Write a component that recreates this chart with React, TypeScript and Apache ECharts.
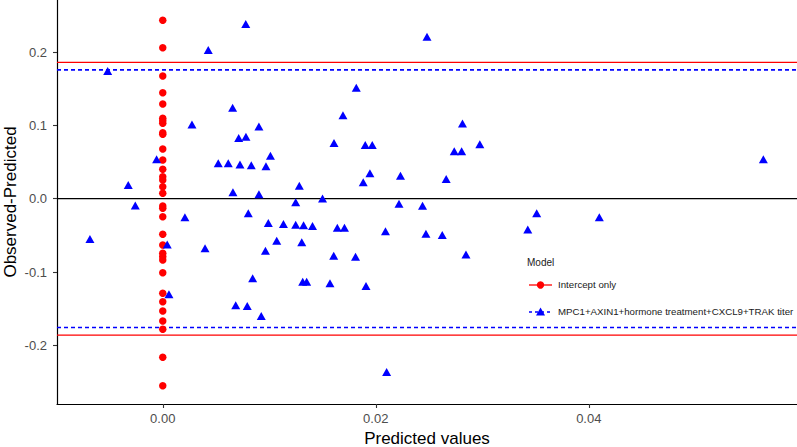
import React, { useEffect, useRef } from "react";
import * as echarts from "echarts";

// Intercept-only model: predicted value is 0 for every observation
const interceptPredicted = [
  0, 0, 0, 0, 0, 0, 0, 0, 0, 0, 0, 0, 0, 0, 0, 0, 0,
  0, 0, 0, 0, 0, 0, 0, 0, 0, 0, 0, 0, 0, 0, 0, 0,
];
const interceptResidual = [
  0.2434, 0.2059, 0.1673, 0.1446, 0.1292, 0.1096, 0.1064, 0.1028, 0.09, 0.0878,
  0.0678, 0.0528, 0.0401, 0.03, 0.0255, 0.0164, 0.0074, -0.01, -0.0131, -0.0245,
  -0.0485, -0.0631, -0.0745, -0.0791, -0.0836, -0.1009, -0.129, -0.1405, -0.1531,
  -0.1668, -0.1781, -0.2163, -0.255,
];

// MPC1+AXIN1+hormone treatment+CXCL9+TRAK titer model
const modelPredicted = [
  -0.00684, -0.00517, -0.00324, -0.00258, -0.00058, 0.00042, 0.00058, 0.00208,
  0.00274, 0.00397, 0.00427, 0.00521, 0.00615, 0.00656, 0.00659, 0.00685,
  0.00713, 0.00725, 0.00779, 0.00781, 0.00793, 0.00803, 0.00831, 0.00844,
  0.00903, 0.00903, 0.00925, 0.00964, 0.00969, 0.00991, 0.01011, 0.0107,
  0.01133, 0.01248, 0.01248, 0.01282, 0.01305, 0.01314, 0.01322, 0.01351,
  0.01406, 0.015, 0.0157, 0.01605, 0.01608, 0.01639, 0.01692, 0.01706,
  0.0181, 0.01817, 0.01882, 0.01901, 0.01908, 0.01945, 0.01967, 0.02091,
  0.02102, 0.02218, 0.02232, 0.02439, 0.02471, 0.02481, 0.02624, 0.02661,
  0.02737, 0.02806, 0.02814, 0.02847, 0.02977, 0.03427, 0.03511, 0.04099,
  0.05639,
];
const modelResidual = [
  -0.055, 0.1741, 0.0186, -0.0092, 0.0537, -0.0623, -0.1304, -0.0254,
  0.1012, -0.0676, 0.2028, 0.0483, 0.0483, 0.1241, 0.0089, -0.1454,
  0.0828, 0.0466, 0.2382, 0.0845, -0.1463, -0.0199, 0.0455, -0.1085,
  0.0985, 0.0061, -0.16, -0.071, 0.0442, -0.0331, 0.0586, -0.0573,
  -0.0345, -0.0356, -0.0048, 0.0177, -0.0595, -0.1132, -0.0361, -0.1132,
  -0.0372, 0.0003, -0.1154, -0.0777, 0.076, -0.0395, 0.1137, -0.0395,
  -0.0791, 0.1514, 0.0225, 0.0732, -0.119, 0.0346, 0.0732, -0.0443,
  -0.2363, -0.0068, 0.0314, -0.0095, -0.0479, 0.2209, -0.0495, 0.0269,
  0.0646, 0.0646, 0.1025, -0.0761, 0.0742, -0.042, -0.0199, -0.0254,
  0.0537,
];

// Limits of agreement (reference lines)
const interceptLimits = [0.186, -0.186];
const modelLimits = [0.1757, -0.1757];
const zeroLine = 0;

// Axis extents and ticks
const xRange = [-0.00993, 0.05955];
const yRange = [-0.28, 0.271];
const xTicks = [0, 0.02, 0.04];
const yTicks = [-0.2, -0.1, 0, 0.1, 0.2];

const seriesNames = ["Intercept only", "MPC1+AXIN1+hormone treatment+CXCL9+TRAK titer"];
const legendTitle = "Model";
const yTitle = "Observed-Predicted";
const xTitle = "Predicted values";

const FONT = "'Liberation Sans', Arial, Helvetica, sans-serif";
const RED = "#FF0000";
const BLUE = "#0000FF";

export default function App() {
  const ref = useRef<HTMLDivElement>(null);

  useEffect(() => {
    document.body.style.margin = "0";
    if (!ref.current) return;
    const chart = echarts.init(ref.current, null, { renderer: "svg" });

    const interceptData = interceptPredicted.map((x, i) => [x, interceptResidual[i]]);
    const modelData = modelPredicted.map((x, i) => [x, modelResidual[i]]);

    const hLine = (v: number, color: string, type: any, width: number) => ({
      type: "line",
      data: [
        [xRange[0], v],
        [xRange[1], v],
      ],
      symbol: "none",
      silent: true,
      z: 2,
      lineStyle: { color, type, width, opacity: 1 },
      emphasis: { disabled: true },
    });

    const legendX = 529;
    const legendRow1 = 285;
    const legendRow2 = 312;

    chart.setOption({
      animation: false,
      backgroundColor: "#ffffff",
      textStyle: { fontFamily: FONT },
      grid: { left: 57, right: 0, top: 0, bottom: 43, outerBoundsMode: "none" },
      xAxis: {
        type: "value",
        min: xRange[0],
        max: xRange[1],
        name: xTitle,
        nameLocation: "middle",
        nameGap: 25,
        nameTextStyle: { fontSize: 17, color: "#000000", fontFamily: FONT },
        splitLine: { show: false },
        axisLine: { show: true, onZero: false, lineStyle: { color: "#000000", width: 1.2 } },
        axisTick: { show: true, length: 4, customValues: xTicks, lineStyle: { color: "#333333", width: 1.1 } },
        axisLabel: {
          customValues: xTicks,
          margin: 8,
          fontSize: 13,
          color: "#4d4d4d",
          fontFamily: FONT,
          formatter: (v: number) => v.toFixed(2),
        },
      },
      yAxis: {
        type: "value",
        min: yRange[0],
        max: yRange[1],
        splitLine: { show: false },
        axisLine: { show: true, onZero: false, lineStyle: { color: "#000000", width: 1.2 } },
        axisTick: { show: true, length: 4, customValues: yTicks, lineStyle: { color: "#333333", width: 1.1 } },
        axisLabel: {
          customValues: yTicks,
          margin: 10,
          fontSize: 13,
          color: "#4d4d4d",
          fontFamily: FONT,
          formatter: (v: number) => v.toFixed(1),
        },
      },
      series: [
        hLine(zeroLine, "#000000", "solid", 1.3),
        ...interceptLimits.map((v) => hLine(v, RED, "solid", 1.2)),
        ...modelLimits.map((v) => hLine(v, BLUE, [4, 3], 1.6)),
        {
          name: seriesNames[0],
          type: "scatter",
          data: interceptData,
          symbol: "circle",
          symbolSize: 7.5,
          itemStyle: { color: RED, opacity: 1 },
          z: 3,
        },
        {
          name: seriesNames[1],
          type: "scatter",
          data: modelData,
          symbol: "triangle",
          symbolSize: [9, 8],
          itemStyle: { color: BLUE, opacity: 1 },
          z: 3,
        },
      ],
      graphic: [
        {
          type: "text",
          x: 10,
          y: 202,
          rotation: Math.PI / 2,
          style: {
            text: yTitle,
            fontSize: 17,
            fill: "#000000",
            fontFamily: FONT,
            align: "center",
            verticalAlign: "middle",
          },
        },
        {
          type: "text",
          left: legendX - 2,
          top: 257,
          style: { text: legendTitle, fontSize: 10, fill: "#1a1a1a", fontFamily: FONT },
        },
        {
          type: "line",
          shape: { x1: legendX, y1: legendRow1, x2: legendX + 23, y2: legendRow1 },
          style: { stroke: RED, lineWidth: 1.3 },
        },
        {
          type: "circle",
          shape: { cx: legendX + 11.5, cy: legendRow1, r: 3.7 },
          style: { fill: RED },
        },
        {
          type: "text",
          left: 558,
          top: legendRow1 - 6,
          style: { text: seriesNames[0], fontSize: 9.7, fill: "#1a1a1a", fontFamily: FONT },
        },
        {
          type: "line",
          shape: { x1: legendX, y1: legendRow2, x2: legendX + 23, y2: legendRow2 },
          style: { stroke: BLUE, lineWidth: 1.6, lineDash: [3, 3] },
        },
        {
          type: "polygon",
          shape: {
            points: [
              [legendX + 7, legendRow2 + 3.5],
              [legendX + 16, legendRow2 + 3.5],
              [legendX + 11.5, legendRow2 - 4.5],
            ],
          },
          style: { fill: BLUE },
        },
        {
          type: "text",
          left: 558,
          top: legendRow2 - 6,
          style: { text: seriesNames[1], fontSize: 9.7, fill: "#1a1a1a", fontFamily: FONT },
        },
      ],
    });

    return () => chart.dispose();
  }, []);

  return (
    <div
      ref={ref}
      style={{ position: "absolute", left: 0, top: 0, width: 797, height: 447 }}
    />
  );
}
